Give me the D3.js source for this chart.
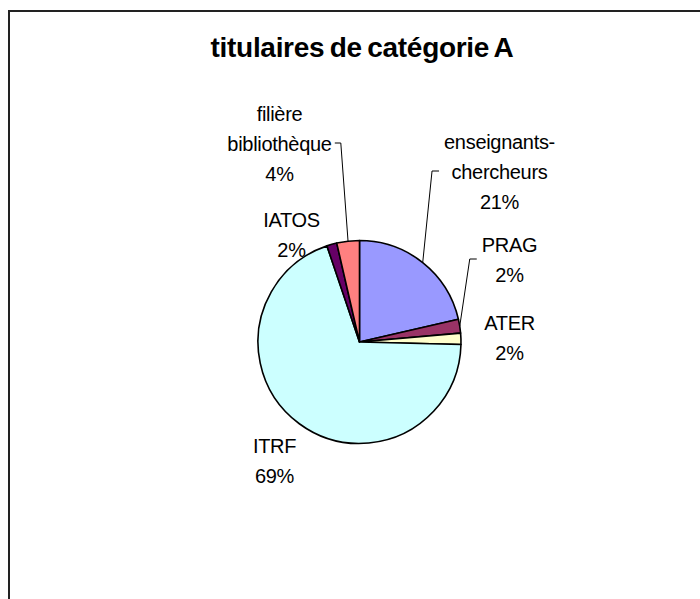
<!DOCTYPE html>
<html>
<head>
<meta charset="utf-8">
<script src="https://cdn.jsdelivr.net/npm/d3@7"></script>
<style>
  html, body { margin: 0; padding: 0; background: #fff; }
  svg { display: block; font-family: "Liberation Sans", Arial, sans-serif; }
</style>
</head>
<body>
<div id="chart"></div>
<script>
const title = "titulaires de catégorie A";
const categories = ["enseignants-chercheurs", "PRAG", "ATER", "ITRF", "IATOS", "filière bibliothèque"];
const values = [21.4, 2.2, 1.8, 69.4, 1.6, 3.6];
const colors = ["#9999ff", "#993366", "#ffffcc", "#ccffff", "#660066", "#ff8080"];

// where Excel put each label (text centre, first baseline), relative to the pie centre
const labelPos = {
  "enseignants-chercheurs": [140, -193],
  "PRAG": [150, -90],
  "ATER": [150, -12],
  "ITRF": [-85, 111],
  "IATOS": [-68, -115],
  "filière bibliothèque": [-80, -221]
};

const width = 700, height = 599;
const cx = 359.5, cy = 342, r = 101.5;
const lineH = 30;

const svg = d3.select("#chart")
  .append("svg")
  .attr("width", width)
  .attr("height", height)
  .attr("viewBox", [0, 0, width, height]);

// chart frame (runs off the right and bottom of the picture)
svg.append("rect")
  .attr("x", 9).attr("y", 11)
  .attr("width", width).attr("height", height)
  .attr("fill", "#fff")
  .attr("stroke", "#222")
  .attr("stroke-width", 2);

svg.append("text")
  .attr("x", 362).attr("y", 57)
  .attr("text-anchor", "middle")
  .attr("font-size", 28)
  .attr("font-weight", "bold")
  .attr("letter-spacing", -0.3)
  .attr("word-spacing", -2)
  .text(title);

const total = d3.sum(values);
const data = categories.map((c, i) => ({ name: c, value: values[i], color: colors[i] }));

const pie = d3.pie().sort(null).value(d => d.value);
const arc = d3.arc().innerRadius(0).outerRadius(r);
const arcs = pie(data);

const g = svg.append("g").attr("transform", `translate(${cx},${cy})`);

g.selectAll("path")
  .data(arcs)
  .join("path")
  .attr("d", arc)
  .attr("fill", d => d.data.color)
  .attr("stroke", "#000")
  .attr("stroke-width", 1.6)
  .attr("stroke-linejoin", "round");

const wrap = s => s.split(/(?<=-)|\s/);
const pct = v => Math.round(v / total * 100) + "%";

arcs.forEach(d => {
  const [dx, dy] = labelPos[d.data.name];
  const lines = wrap(d.data.name).concat(pct(d.data.value));
  const t = g.append("text")
    .attr("text-anchor", "middle")
    .attr("font-size", 20)
    .attr("letter-spacing", -0.3)
    .attr("fill", "#000");
  lines.forEach((l, i) => {
    t.append("tspan").attr("x", dx).attr("y", dy + i * lineH).text(l);
  });

  const bb = t.node().getBBox();
  const a = (d.startAngle + d.endAngle) / 2;
  const px = r * Math.sin(a), py = -r * Math.cos(a);
  const right = dx > 0;
  const sx = right ? bb.x - 5 : bb.x + bb.width + 3;
  const sy = bb.y + bb.height / 2 - 1;
  const ex = right ? sx - 7 : sx + 6;
  // near labels get no leader line
  const nx = Math.max(bb.x, Math.min(px, bb.x + bb.width));
  const ny = Math.max(bb.y, Math.min(py, bb.y + bb.height));
  if (Math.hypot(nx - px, ny - py) < 25) return;
  g.append("path")
    .attr("d", d3.line()([[sx, sy], [ex, sy], [px, py]]))
    .attr("fill", "none")
    .attr("stroke", "#000")
    .attr("stroke-width", 1);
});
</script>
</body>
</html>
